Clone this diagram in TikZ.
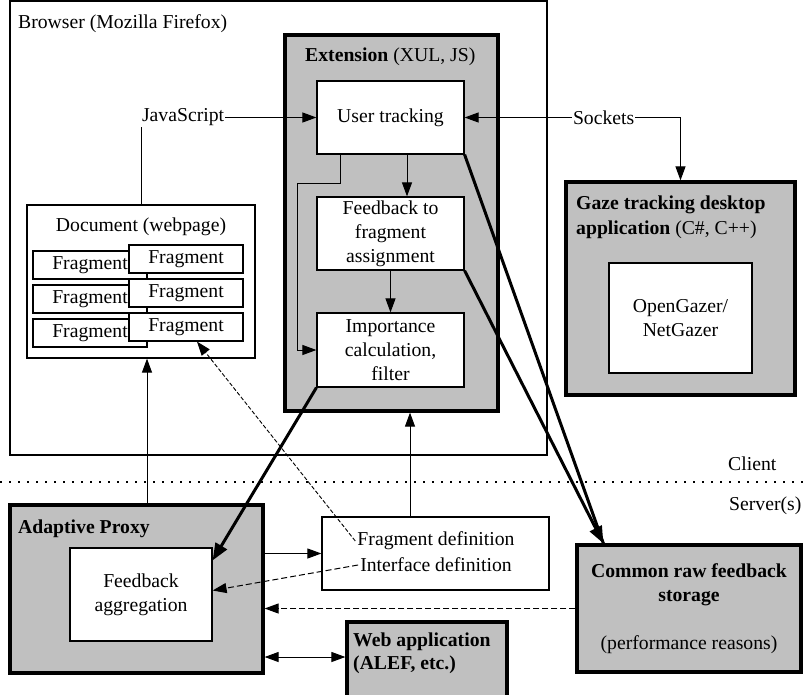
\documentclass[tikz,border=0pt]{standalone}
\usepackage{fontspec}
\setmainfont{Liberation Serif}
\usetikzlibrary{arrows.meta,calc}
\definecolor{panelgray}{RGB}{192,192,192}
\begin{document}
\begin{tikzpicture}[x=1pt,y=-1pt,
  font=\fontsize{19.7pt}{24pt}\selectfont,
  frame/.style={draw, line width=1.2pt, inner sep=0pt},
  box/.style={frame, fill=white, align=center},
  panel/.style={draw, fill=panelgray, line width=3.2pt, inner sep=0pt},
  caption/.style={anchor=base west, inner sep=0pt},
  tip/.style={-{Triangle[length=14pt,width=10pt]}},
  bothtips/.style={{Triangle[length=14pt,width=10pt]}-{Triangle[length=14pt,width=10pt]}},
  link/.style={line width=1pt, tip},
  heavy/.style={line width=3pt, -{Triangle[length=17pt,width=13pt]}},
  hint/.style={line width=1pt, dash pattern=on 6pt off 3pt, tip},
  fine/.style={line width=0.9pt, dash pattern=on 4pt off 2pt, tip},
  onlabel/.style={fill=white, inner sep=1pt},
]
\clip (0,0) rectangle (803,694);

% Browser frame
\node[frame, minimum width=537pt, minimum height=454pt] (browser) at (278.5,228) {};
\node[caption] (browsertitle) at (18,28) {Browser (Mozilla Firefox)};

% Extension with its three stages
\node[panel, minimum width=213pt, minimum height=376pt] (ext) at (391.5,223) {};
\node[caption] (exttitle) at (305,61.5) {\textbf{Extension} (XUL, JS)};
\node[box, minimum width=147pt, minimum height=73pt] (ut) at (390.5,117.5) {User tracking};
\node[box, minimum width=147pt, minimum height=73pt] (fa) at (390.5,233.5) {Feedback to\\fragment\\assignment};
\node[box, minimum width=147pt, minimum height=74pt] (imp) at (390.5,350) {Importance\\calculation,\\filter};

% Gaze tracking application
\node[panel, minimum width=229pt, minimum height=213pt] (gaze) at (680.5,288.5) {};
\node[caption] (gazetitle1) at (576,209.5) {\textbf{Gaze tracking desktop}};
\node[caption] (gazetitle2) at (576,234.5) {\textbf{application} (C\#, C++)};
\node[box, minimum width=143pt, minimum height=110pt] (og) at (680.5,318) {OpenGazer/\\NetGazer};

% Document and its fragments
\node[box, minimum width=228pt, minimum height=153pt] (doc) at (141,281.5) {};
\node (doctitle) at (141,227) {Document (webpage)};
\foreach \i/\y in {1/265,2/299,3/333}
  \node[box, minimum width=114pt, minimum height=28pt] (fl\i) at (90,\y) {Fragment};
\foreach \i/\y in {1/259,2/293,3/327}
  \node[box, minimum width=114pt, minimum height=28pt] (fr\i) at (186,\y) {Fragment};

% Adaptive proxy
\node[panel, minimum width=253pt, minimum height=168pt] (proxy) at (136.5,589) {};
\node[caption] (proxytitle) at (18,533) {\textbf{Adaptive Proxy}};
\node[box, minimum width=142pt, minimum height=93pt] (agg) at (141,594.5) {Feedback\\aggregation};

% Definitions
\node[box, minimum width=227pt, minimum height=73pt] (defs) at (435.5,553.5) {};
\node[inner sep=2pt] (fragdef) at (436,541) {Fragment definition};
\node[inner sep=2pt] (ifdef) at (436,565) {Interface definition};

% Web application
\node[panel, minimum width=160pt, minimum height=76pt] (web) at (427,660) {};
\node[caption] (webtitle1) at (353,646) {\textbf{Web application}};
\node[caption] (webtitle2) at (353,669.5) {\textbf{(ALEF, etc.)}};

% Common raw feedback storage
\node[panel, minimum width=224pt, minimum height=127pt, align=center] (store) at (689,608.5)
  {\textbf{Common raw feedback}\\\textbf{storage}\\[24pt](performance reasons)};

% Client / server boundary
\draw[line width=1.6pt, dash pattern=on 2pt off 7pt] (0,482) -- (803,482);
\node[caption] (client) at (728,470) {Client};
\node[caption] (server) at (729,510) {Server(s)};

% Connectors
\draw[link] (doc.north) |- (ut.west) node[onlabel, pos=0.62] (js) {JavaScript};
\draw[line width=1pt, bothtips] (ut.east) -| (gaze.north) node[onlabel, pos=0.322] (sockets) {Sockets};
\draw[link] ([xshift=16.5pt]ut.south) -- ([xshift=16.5pt]fa.north);
\draw[link] (fa.south) -- (imp.north);
\draw[link] ([xshift=-50.5pt]ut.south) |- (297,183) |- (imp.west);

\coordinate (docin) at ([xshift=6pt]doc.south);
\draw[link] (docin |- proxy.north) -- (docin);
\coordinate (extin) at ([xshift=-25.5pt]defs.north);
\draw[link] (extin) -- (extin |- ext.south);
\draw[link] (proxy.east |- defs.west) -- (defs.west);
\coordinate (webin) at ([yshift=3pt]web.west);
\draw[line width=1pt, bothtips] (proxy.east |- webin) -- (webin);

\draw[fine] (fragdef.west) -- ([xshift=11pt]fr3.south);
\draw[hint] (ifdef.west) -- ([yshift=4pt]agg.east);
\draw[hint] (store.west) -- (proxy.east |- store.west);

\draw[heavy] (imp.south west) -- ([yshift=-13pt]agg.north east);
\coordinate (storein) at ([xshift=28pt]store.north west);
\draw[line width=3pt] (ut.south east) -- (storein);
\draw[heavy] (fa.south east) -- (storein);
\end{tikzpicture}
\end{document}
